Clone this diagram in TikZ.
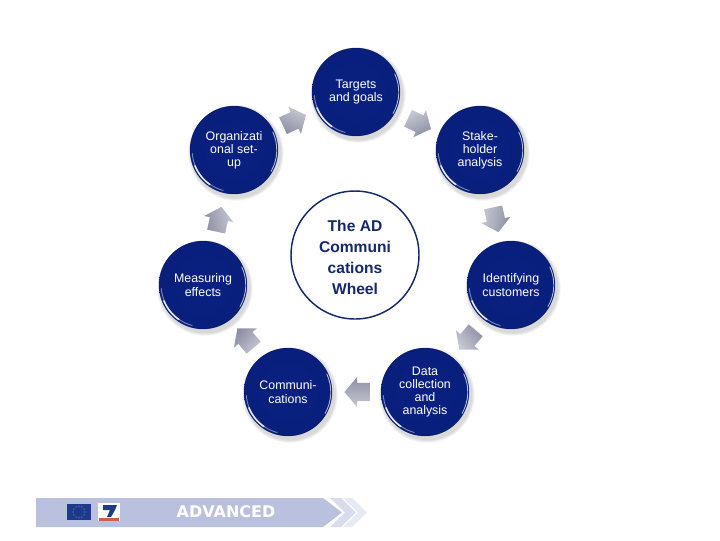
\documentclass[tikz,border=0pt]{standalone}
\usepackage{fontspec}
\setmainfont{Liberation Sans}
\newfontfamily\bandfont{DejaVu Sans}
\usetikzlibrary{shapes.arrows,shadings,calc}
\definecolor{wheelblue}{HTML}{0A2183}
\definecolor{wheeldark}{HTML}{071763}
\definecolor{titleblue}{HTML}{14296B}
\definecolor{bandblue}{HTML}{B9C1DF}
\definecolor{arrowlight}{HTML}{C6C8D2}
\definecolor{arrowdark}{HTML}{8C90A4}
\definecolor{flagblue}{HTML}{1B3A8C}
\definecolor{flagstar}{HTML}{E6E3B0}
\definecolor{logored}{HTML}{C8604F}
\tikzset{
  x=0.75pt,y=-0.75pt,
  spoke/.style={circle,minimum size=66pt,inner sep=0pt,text=white,align=center,
    font=\fontsize{9.3}{9.9}\selectfont,inner color=wheelblue,outer color=wheeldark!25!wheelblue},
  hub/.style={circle,draw=titleblue,line width=1.1pt,minimum size=96pt,inner sep=0pt,fill=white},
  hubtitle/.style={align=center,text=titleblue,inner sep=0pt,font=\fontsize{11.7}{15.75}\selectfont\bfseries},
  flow/.style={single arrow,minimum height=19pt,single arrow head extend=4.3pt,
    single arrow tip angle=100,inner xsep=0pt,inner ysep=6.7pt,
    top color=arrowlight,bottom color=arrowdark},
  halo/.style={fill=black,opacity=0.04},
  bevel/.style={white,line cap=round},
  bandtext/.style={text=white,inner sep=0pt,font=\bandfont\fontsize{12}{12}\selectfont\bfseries},
}
\newcommand{\wheelshadow}[1]{%
  \foreach \r in {34,34.6,35.2,35.8}{\fill[halo] ($(#1)+(2,3)$) circle (\r pt);}}
\newcommand{\wheelbevel}[1]{%
  \draw[bevel,line width=0.7pt,opacity=0.45] ($(#1)+(-105:31.4pt)$) arc (-105:-175:31.4pt);
  \draw[bevel,line width=1.2pt,opacity=0.85] ($(#1)+(-125:31.6pt)$) arc (-125:-158:31.6pt);
  \draw[bevel,line width=0.7pt,opacity=0.7] ($(#1)+(25:32.1pt)$) arc (25:-30:32.1pt);
  \draw[wheeldark,line width=0.5pt,opacity=0.6] (#1) circle (32.9pt);}
\begin{document}
\begin{tikzpicture}
\useasboundingbox (0,0) rectangle (720,540);
\coordinate (ca) at (356,92);
\coordinate (cb) at (480,150);
\coordinate (cc) at (511,285);
\coordinate (cd) at (425,392);
\coordinate (ce) at (288,392);
\coordinate (cf) at (203,285);
\coordinate (cg) at (234,150);
\foreach \c in {ca,cb,cc,cd,ce,cf,cg}{\wheelshadow{\c}}
\node[spoke] (targets) at (ca) {Targets\\and goals};
\node[spoke] (stake) at (cb) {Stake-\\holder\\analysis};
\node[spoke] (ident) at (cc) {Identifying\\customers};
\node[spoke] (data) at (cd) {Data\\collection\\and\\analysis};
\node[spoke] (comm) at (ce) {Communi-\\cations};
\node[spoke] (meas) at (cf) {Measuring\\effects};
\node[spoke] (org) at (cg) {Organizati\\onal set-\\up};
\foreach \c in {ca,cb,cc,cd,ce,cf,cg}{\wheelbevel{\c}}
\node[flow,rotate=-25,shading angle=25] (a1) at (416,122) {};
\node[flow,rotate=-78,shading angle=78] (a2) at (495,216) {};
\node[flow,rotate=-130,shading angle=130] (a3) at (470,337) {};
\node[flow,rotate=180,shading angle=180] (a4) at (361,392) {};
\node[flow,rotate=130,shading angle=-130] (a5) at (248,341) {};
\node[flow,rotate=78,shading angle=-78] (a6) at (218,223) {};
\node[flow,rotate=25,shading angle=-25] (a7) at (291,122) {};
\node[hub] (hub) at (355,255) {};
\node[hubtitle] (hubtext) at (355,257) {The AD\\Communi\\cations\\Wheel};
% footer band
\fill[bandblue!35] (343,498) -- (352,498) -- (367,512.5) -- (352,527) -- (343,527) -- (358,512.5) -- cycle;
\fill[bandblue!55] (330,498) -- (341,498) -- (356,512.5) -- (341,527) -- (330,527) -- (345,512.5) -- cycle;
\fill[bandblue] (36,498) -- (323,498) -- (342,512.5) -- (323,527) -- (36,527) -- cycle;
\node[bandtext] (advanced) at (226,511.5) {ADVANCED};
% EU flag
\fill[flagblue] (67,504) rectangle (91,520);
\foreach \a in {0,30,...,330}{\fill[flagstar] ($(79,512)+(\a:4.4pt)$) circle (0.35pt);}
% FP7 logo
\fill[white] (98,503) rectangle (120,521);
\fill[flagblue] (103,505) -- (117,505) -- (115,510) -- (111,517) -- (107,517) -- (110,510) -- (103,510) -- cycle;
\fill[logored] (99,518) rectangle (119,520.5);
\end{tikzpicture}
\end{document}
